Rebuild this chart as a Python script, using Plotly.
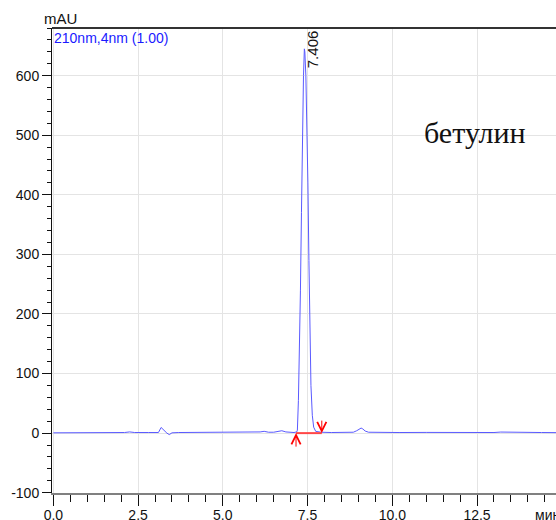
import plotly.graph_objects as go

# Chromatogram values (time in minutes, signal in mAU)
time_min = [0.0, 0.5, 1.0, 1.6, 1.75, 1.9, 2.1, 2.25, 2.4, 2.8, 3.1, 3.18, 3.25, 3.35,
            3.42, 3.5, 3.7, 4.2, 4.8, 5.5, 6.0, 6.1, 6.22, 6.35, 6.5, 6.62, 6.74, 6.86,
            7.0, 7.1, 7.18, 7.20, 7.23, 7.26, 7.29, 7.32, 7.35, 7.38, 7.406, 7.42, 7.45,
            7.48, 7.51, 7.54, 7.57, 7.60, 7.64, 7.68, 7.74, 7.9, 8.2, 8.6, 8.85, 8.95,
            9.03, 9.08, 9.13, 9.2, 9.3, 9.6, 10.2, 11.0, 11.5, 12.0, 12.5, 13.0, 13.2,
            13.8, 14.2, 14.4, 14.9]
signal_mau = [0.5, 0.5, 0.8, 0.8, 1.5, 0.8, 1.0, 2.0, 1.0, 1.0, 1.0, 9.5, 5.0, 0.0,
              -2.5, 0.5, 1.0, 1.2, 1.0, 1.0, 1.0, 2.0, 3.0, 1.5, 1.5, 2.5, 4.0, 2.0,
              1.0, 1.0, 2.0, 5.0, 55.0, 130.0, 240.0, 370.0, 500.0, 600.0, 645.0, 640.0, 600.0,
              530.0, 420.0, 290.0, 170.0, 80.0, 30.0, 10.0, 3.0, 1.5, 1.0, 1.0, 1.5, 4.0,
              7.5, 8.5, 7.0, 3.5, 1.5, 1.0, 1.0, 1.2, 1.0, 1.0, 0.8, 1.0, 1.8,
              2.0, 1.5, 1.0, 0.8]

y_tick_values = [-100, 0, 100, 200, 300, 400, 500, 600]
y_tick_labels = ["-100", "0", "100", "200", "300", "400", "500", "600"]
x_tick_values = [0.0, 2.5, 5.0, 7.5, 10.0, 12.5]
x_tick_labels = ["0.0", "2.5", "5.0", "7.5", "10.0", "12.5"]

peak_rt = 7.406
peak_height = 645.0
peak_label = "7.406"
integration_start = 7.16
integration_end = 7.92
baseline_level = 0.0
compound_name = "бетулин"
channel_label = "210nm,4nm (1.00)"
y_unit = "mAU"
x_unit = "мин"
compound_pos = (12.44, 505.0)

FONT = "Arial, Liberation Sans, sans-serif"

fig = go.Figure()

fig.add_trace(go.Scatter(
    x=time_min, y=signal_mau, mode="lines",
    line=dict(color="#5a5aff", width=1), hoverinfo="skip", showlegend=False))

fig.add_trace(go.Scatter(
    x=[integration_start, integration_end], y=[baseline_level, baseline_level],
    mode="lines", line=dict(color="rgb(255,70,70)", width=2),
    hoverinfo="skip", showlegend=False))

annotations = [
    dict(x=integration_start, y=baseline_level, xref="x", yref="y", text="",
         showarrow=True, ax=0, ay=15, arrowhead=5, arrowsize=1.8, arrowwidth=1,
         arrowcolor="red", standoff=0),
    dict(x=integration_end, y=baseline_level, xref="x", yref="y", text="",
         showarrow=True, ax=0, ay=-14, arrowhead=5, arrowsize=1.8, arrowwidth=1,
         arrowcolor="red", standoff=0),
    dict(x=peak_rt, y=peak_height, xref="x", yref="y", text=peak_label,
         showarrow=False, textangle=-90, xanchor="center", yanchor="middle",
         xshift=8, font=dict(family=FONT, size=15, color="#111")),
    dict(x=compound_pos[0], y=compound_pos[1], xref="x", yref="y", text=compound_name,
         showarrow=False, xanchor="center", yanchor="middle",
         font=dict(family="Times New Roman, Liberation Serif, serif", size=30, color="#111")),
    dict(x=0, y=1, xref="paper", yref="paper", text=channel_label, showarrow=False,
         xanchor="left", yanchor="top", xshift=0, yshift=0,
         font=dict(family=FONT, size=14, color="#1a1aff")),
    dict(x=0, y=1, xref="paper", yref="paper", text=y_unit, showarrow=False,
         xanchor="center", yanchor="bottom", xshift=8, yshift=-1,
         font=dict(family=FONT, size=15, color="#111")),
    dict(x=14.15, y=0, xref="x", yref="paper", text=x_unit, showarrow=False,
         xanchor="left", yanchor="top", yshift=-12,
         font=dict(family=FONT, size=14, color="#111")),
]

fig.update_layout(
    width=556, height=520,
    margin=dict(l=52, r=0, t=28, b=27, autoexpand=False),
    paper_bgcolor="white", plot_bgcolor="white",
    font=dict(family=FONT, size=14, color="#111"),
    annotations=annotations,
    shapes=[dict(type="line", xref="paper", yref="paper", x0=0, x1=1, y0=1, y1=1,
                 line=dict(color="#333", width=2))],
)

fig.update_xaxes(
    range=[-0.04, 14.83], tickmode="array", tickvals=x_tick_values, ticktext=x_tick_labels,
    automargin=False,
    showgrid=True, gridcolor="#e4e4e4", gridwidth=1, zeroline=False,
    showline=True, linecolor="#808080", linewidth=2,
    ticks="outside", ticklen=11, tickcolor="#111", tickwidth=1,
    ticklabelstandoff=-3,
    minor=dict(dtick=0.5, tick0=0, ticks="outside", ticklen=7, tickcolor="#111",
               showgrid=False),
    tickfont=dict(family=FONT, size=14, color="#111"),
)
fig.update_yaxes(
    range=[-100.5, 680], tickmode="array", tickvals=y_tick_values, ticktext=y_tick_labels,
    automargin=False,
    showgrid=True, gridcolor="#e4e4e4", gridwidth=1, zeroline=False,
    showline=True, linecolor="#111", linewidth=1,
    ticks="outside", ticklen=9, tickcolor="#111", tickwidth=1,
    minor=dict(dtick=20, tick0=0, ticks="outside", ticklen=4, tickcolor="#111",
               showgrid=False),
    tickfont=dict(family=FONT, size=14, color="#111"),
)

fig.write_html(
    "out.html",
    config={"displayModeBar": False},
    post_script="document.body.style.margin='0px';document.body.style.overflow='hidden';",
)
